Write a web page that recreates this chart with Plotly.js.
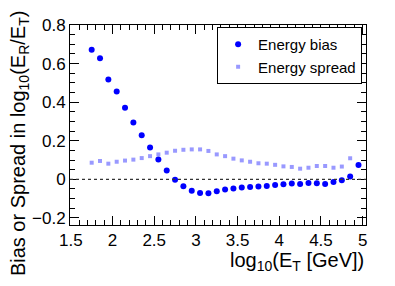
<!DOCTYPE html>
<html><head><meta charset="utf-8">
<script src="https://cdn.plot.ly/plotly-3.0.1.min.js"></script>
<style>html,body{margin:0;padding:0;background:#fff;}#chart{width:395px;height:286px;}</style>
</head><body><div id="chart"></div>
<script>
const logET = [1.75,1.85,1.95,2.05,2.15,2.25,2.35,2.45,2.55,2.65,2.75,2.85,2.95,3.05,3.15,3.25,3.35,3.45,3.55,3.65,3.75,3.85,3.95,4.05,4.15,4.25,4.35,4.45,4.55,4.65,4.75,4.85,4.95];
const energyBias = [0.672,0.627,0.517,0.455,0.371,0.295,0.229,0.165,0.103,0.045,-0.003,-0.036,-0.060,-0.071,-0.072,-0.062,-0.053,-0.048,-0.043,-0.040,-0.038,-0.035,-0.029,-0.026,-0.022,-0.024,-0.019,-0.021,-0.024,-0.014,-0.005,0.014,0.074];
const energySpread = [0.086,0.095,0.081,0.091,0.097,0.102,0.110,0.120,0.129,0.138,0.148,0.153,0.155,0.155,0.147,0.129,0.120,0.107,0.098,0.091,0.083,0.081,0.075,0.067,0.064,0.055,0.060,0.069,0.069,0.060,0.066,0.109,0.074];
const xTickVals = [1.5,2,2.5,3,3.5,4,4.5,5];
const yTickVals = [-0.2,0,0.2,0.4,0.6,0.8];
const yTickText = ['\u22120.2','0','0.2','0.4','0.6','0.8'];

const font = 'Liberation Sans, Arial, Helvetica, sans-serif';
const traces = [
  {x: logET, y: energyBias, type:'scatter', mode:'markers', name:'Energy bias',
   marker:{symbol:'circle', size:6, color:'#0000ff', line:{width:0}}},
  {x: logET, y: energySpread, type:'scatter', mode:'markers', name:'Energy spread',
   marker:{symbol:'square', size:4, color:'rgba(0,0,255,0.4)', line:{width:0}}}
];
const axisCommon = {
  showgrid:false, zeroline:false, showline:true, linecolor:'#000', linewidth:1, mirror:'allticks',
  ticks:'inside', ticklen:9, tickcolor:'#000', tickwidth:1,
  tickfont:{family:font, size:17, color:'#000'}
};
const layout = {
  width:395, height:286,
  margin:{l:70, r:29, t:25, b:61},
  paper_bgcolor:'#fff', plot_bgcolor:'#fff',
  showlegend:true,
  legend:{x:0.497, y:0.99, xanchor:'left', yanchor:'top', bgcolor:'#fff', bordercolor:'#000', borderwidth:1,
    font:{family:font, size:15, color:'#000'}, tracegroupgap:0, itemwidth:30},
  xaxis: Object.assign({}, axisCommon, {range:[1.49,5.04], tickvals:xTickVals, ticktext:xTickVals.map(String),
    minor:{dtick:0.1, tick0:1.5, ticks:'inside', ticklen:5, tickcolor:'#000'}}),
  yaxis: Object.assign({}, axisCommon, {range:[-0.237,0.8], tickvals:yTickVals, ticktext:yTickText,
    minor:{dtick:0.05, tick0:0, ticks:'inside', ticklen:5, tickcolor:'#000'}}),
  shapes:[{type:'line', xref:'paper', x0:0, x1:1, yref:'y', y0:0, y1:0, line:{color:'#333', width:1.2, dash:'dot'}}],
  annotations:[
    {text:'log<sub>10</sub>(E<sub>T</sub> [GeV])', xref:'paper', yref:'paper', x:1, y:-0.11, xanchor:'right', yanchor:'top',
     showarrow:false, font:{family:font, size:20, color:'#000'}},
    {text:'Bias or Spread in log<sub>10</sub>(E<sub>R</sub>/E<sub>T</sub>)', xref:'paper', yref:'paper', x:-0.172, y:0.41,
     xanchor:'center', yanchor:'middle', textangle:-90, showarrow:false, font:{family:font, size:20, color:'#000'}}
  ]
};
Plotly.newPlot('chart', traces, layout, {displayModeBar:false, staticPlot:true});
</script></body></html>
